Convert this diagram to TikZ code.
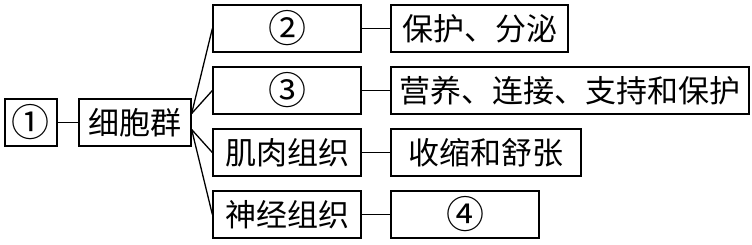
\documentclass[tikz,border=0pt]{standalone}
\usepackage{fontspec}
\setmainfont{Noto Sans CJK SC}
\begin{document}
\begin{tikzpicture}[x=1pt,y=-1pt,
  box/.style={draw, line width=1.3pt, inner sep=0pt, minimum height=47pt, font=\fontsize{31}{31}\selectfont},
  num/.style={font=\fontsize{38}{38}\selectfont},
  conn/.style={line width=1.3pt}]
\useasboundingbox (0,0) rectangle (752,244);
% column 1
\node[box, num, minimum width=52pt] (n1) at (31,122.5) {①};
\node[box, minimum width=112pt] (cell) at (135,122.5) {细胞群};
% column 2
\node[box, num, minimum width=148pt] (n2) at (287,28.5) {②};
\node[box, num, minimum width=148pt] (n3) at (287,90.5) {③};
\node[box, minimum width=148pt] (mus) at (287,152.5) {肌肉组织};
\node[box, minimum width=148pt] (ner) at (287,214.5) {神经组织};
% column 3
\node[box, minimum width=177pt] (f2) at (479.5,28.5) {保护、分泌};
\node[box, minimum width=358pt] (f3) at (570,90.5) {营养、连接、支持和保护};
\node[box, minimum width=190pt] (fm) at (486,152.5) {收缩和舒张};
\node[box, num, minimum width=148pt] (n4) at (465,214.5) {④};
% connectors
\draw[conn] (n1) -- (cell);
\draw[conn] ([yshift=9pt]cell.east) -- (n2.west);
\draw[conn] ([yshift=9pt]cell.east) -- (n3.west);
\draw[conn] ([yshift=-7pt]cell.east) -- (mus.west);
\draw[conn] ([yshift=-7pt]cell.east) -- (ner.west);
\draw[conn] (n2) -- (f2);
\draw[conn] (n3) -- (f3);
\draw[conn] (mus) -- (fm);
\draw[conn] (ner) -- (n4);
\end{tikzpicture}
\end{document}
